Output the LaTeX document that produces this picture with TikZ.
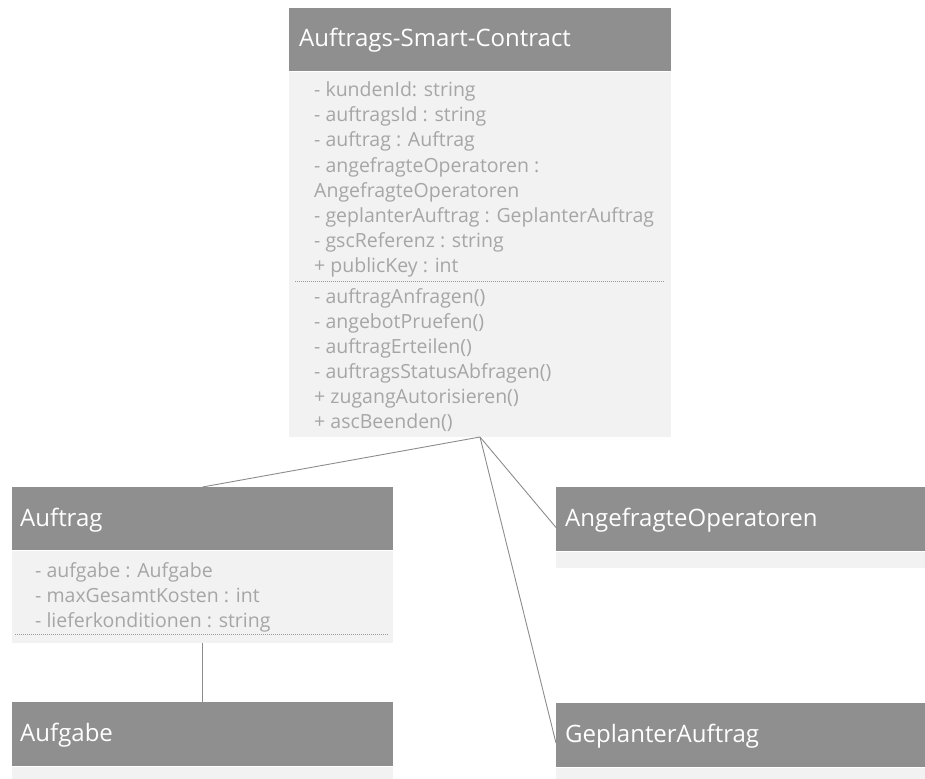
\documentclass[tikz,border=0pt]{standalone}
\usepackage{fontspec}
\setmainfont{Open Sans}
\definecolor{hdrgray}{HTML}{8F8F8F}
\definecolor{bodygray}{HTML}{F2F2F2}
\definecolor{txtgray}{HTML}{A6A6A6}
\definecolor{sepgray}{HTML}{9A9A9A}
\definecolor{conngray}{HTML}{8C8C8C}
\begin{document}
\begin{tikzpicture}[x=1pt,y=-1pt,
  cls/.style={fill=bodygray, draw=none, inner sep=0, outer sep=0, anchor=north west},
  hdr/.style={fill=hdrgray, draw=none, inner sep=0, outer sep=0, anchor=north west, minimum height=64},
  htext/.style={text=white, font=\fontsize{24}{28}\selectfont, anchor=base west, inner sep=0},
  atext/.style={text=txtgray, font=\fontsize{19.5}{25}\selectfont, anchor=base west, inner sep=0},
  sepline/.style={draw=sepgray, line width=0.6pt, dash pattern=on 1pt off 1pt},
  hline/.style={draw=white, line width=1pt},
  conn/.style={draw=conngray, line width=0.9pt}]
\useasboundingbox (0,0) rectangle (925,778);
\clip (0,0) rectangle (925,778);

% Auftrags-Smart-Contract
\node[cls, minimum width=382, minimum height=429] (ascCls) at (289,8) {};
\node[hdr, minimum width=382] (asc) at (289,8) {};
\draw[hline] (asc.south west) -- (asc.south east);
\node[htext] (ascT) at (299,47) {Auftrags-Smart-Contract};
\foreach \t [count=\i] in {- kundenId: string,- auftragsId : string,- auftrag : Auftrag,- angefragteOperatoren :,AngefragteOperatoren,- geplanterAuftrag : GeplanterAuftrag,- gscReferenz : string,+ publicKey : int}
  \node[atext] (ascA\i) at (314,{97+25*(\i-1)}) {\t};
\draw[sepline] (295,281) -- (665,281);
\foreach \t [count=\i] in {- auftragAnfragen(),- angebotPruefen(),- auftragErteilen(),- auftragsStatusAbfragen(),+ zugangAutorisieren(),+ ascBeenden()}
  \node[atext] (ascM\i) at (314,{303+25*(\i-1)}) {\t};

% Auftrag
\node[cls, minimum width=381, minimum height=156] (auftragCls) at (12,487) {};
\node[hdr, minimum width=381, minimum height=63] (auftrag) at (12,487) {};
\draw[hline] (auftrag.south west) -- (auftrag.south east);
\node[htext] (auftragT) at (20,526) {Auftrag};
\foreach \t [count=\i] in {- aufgabe : Aufgabe,- maxGesamtKosten : int,- lieferkonditionen : string}
  \node[atext] (auftragA\i) at (35,{577+25*(\i-1)}) {\t};
\draw[sepline] (15,634) -- (388,634);

% Aufgabe
\node[cls, minimum width=381, minimum height=81] (aufgabeCls) at (12,702) {};
\node[hdr, minimum width=381] (aufgabe) at (12,702) {};
\draw[hline] (aufgabe.south west) -- (aufgabe.south east);
\node[htext] (aufgabeT) at (20,741) {Aufgabe};

% AngefragteOperatoren
\node[cls, minimum width=381, minimum height=81] (angCls) at (556,487) {};
\node[hdr, minimum width=381] (ang) at (556,487) {};
\draw[hline] (ang.south west) -- (ang.south east);
\node[htext] (angT) at (565,526) {AngefragteOperatoren};

% GeplanterAuftrag
\node[cls, minimum width=381, minimum height=80] (gepCls) at (556,703) {};
\node[hdr, minimum width=381] (gep) at (556,703) {};
\draw[hline] (gep.south west) -- (gep.south east);
\node[htext] (gepT) at (565,742) {GeplanterAuftrag};

% connectors
\draw[conn] (ascCls.south) -- (auftragCls.north);
\draw[conn] (ascCls.south) -- (angCls.west);
\draw[conn] (ascCls.south) -- (gepCls.west);
\draw[conn] (auftragCls.south) -- (aufgabeCls.north);
\end{tikzpicture}
\end{document}
